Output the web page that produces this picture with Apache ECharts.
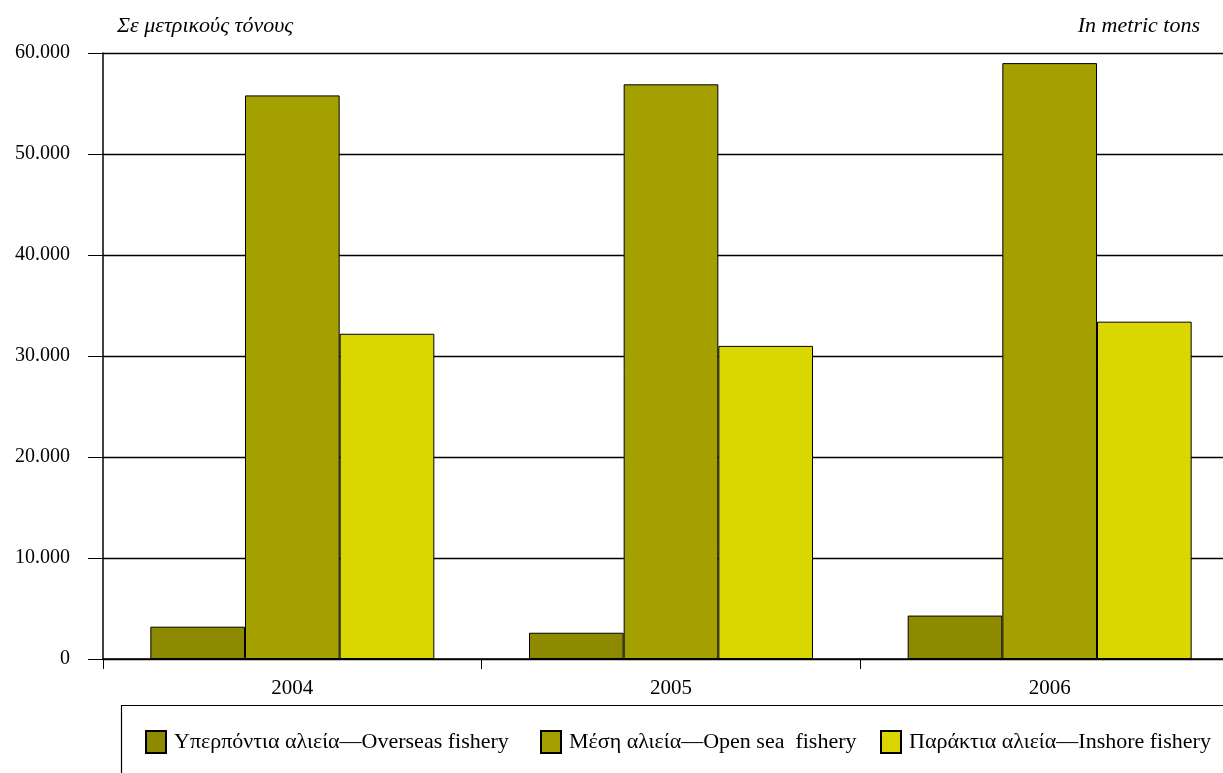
<!DOCTYPE html>
<html>
<head>
<meta charset="utf-8">
<script src="https://cdn.jsdelivr.net/npm/echarts@6/dist/echarts.min.js"></script>
<style>
html,body{margin:0;padding:0;background:#fff;}
#chart{width:1223px;height:773px;}
</style>
</head>
<body>
<div id="chart"></div>
<script>
const categories = ['2004', '2005', '2006'];
const seriesNames = [
  'Υπερπόντια αλιεία—Overseas fishery',
  'Μέση αλιεία—Open sea  fishery',
  'Παράκτια αλιεία—Inshore fishery'
];
const overseas = [3200, 2600, 4300];
const openSea = [55800, 56900, 59000];
const inshore = [32200, 31000, 33400];
const yTicks = [0, 10000, 20000, 30000, 40000, 50000, 60000];
const colors = ['#8e8a00', '#a3a000', '#dad600'];

const FONT = '"Liberation Serif", "DejaVu Serif", serif';
const fmt = v => String(v).replace(/\B(?=(\d{3})+(?!\d))/g, '.');

const chart = echarts.init(document.getElementById('chart'));
const values = [overseas, openSea, inshore];
const legendLefts = [140, 535, 875];
chart.setOption({
  animation: false,
  backgroundColor: '#fff',
  textStyle: { fontFamily: FONT },
  grid: { left: 103, top: 53, right: -16, height: 606, containLabel: false, outerBoundsMode: 'none' },
  graphic: [
    { type: 'text', left: 117, top: 15, style: { text: 'Σε μετρικούς τόνους', font: 'italic 22px ' + FONT, fill: '#000' } },
    { type: 'text', right: 23, top: 15, style: { text: 'In metric tons', font: 'italic 22px ' + FONT, fill: '#000' } },
    { type: 'rect', left: 119, top: 703, shape: { width: 1120, height: 80 }, style: { fill: 'none', stroke: '#000', lineWidth: 1.2 }, z: 0 }
  ],
  legend: seriesNames.map((name, i) => ({
    left: legendLefts[i], top: 725,
    itemWidth: 20, itemHeight: 22, itemGap: 0,
    textStyle: { fontFamily: FONT, fontSize: 22, color: '#000', padding: [0, 0, 0, 3] },
    icon: 'rect',
    data: [name]
  })),
  xAxis: {
    type: 'category',
    data: categories,
    axisLine: { lineStyle: { color: '#000', width: 1.5 } },
    axisTick: { show: true, length: 10, lineStyle: { color: '#000' } },
    axisLabel: { fontFamily: FONT, fontSize: 21, color: '#000', margin: 19 }
  },
  yAxis: {
    type: 'value',
    min: 0, max: 60000, interval: 10000,
    axisLine: { show: true, lineStyle: { color: '#000', width: 1.5 } },
    axisTick: { show: true, length: 15, lineStyle: { color: '#000' } },
    axisLabel: { fontFamily: FONT, fontSize: 20, color: '#000', margin: 33,
      formatter: v => yTicks.indexOf(v) >= 0 ? fmt(v) : '' },
    splitLine: { show: true, lineStyle: { color: '#000', width: 1.3 } }
  },
  series: seriesNames.map((name, i) => ({
    name: name,
    type: 'bar',
    data: values[i],
    barGap: '0%',
    barCategoryGap: '25%',
    itemStyle: { color: colors[i], borderColor: '#000', borderWidth: 1 },
    z: 3
  }))
});
</script>
</body>
</html>
